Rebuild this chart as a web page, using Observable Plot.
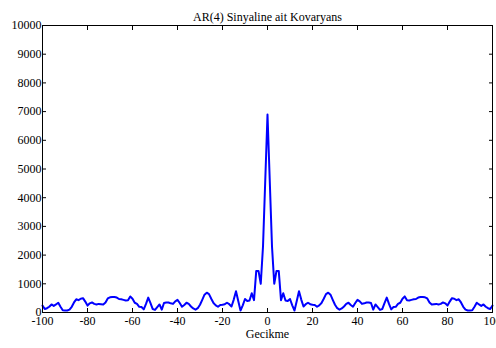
<!DOCTYPE html>
<html>
<head>
<meta charset="utf-8">
<script src="https://cdn.jsdelivr.net/npm/d3@7"></script>
<script src="https://cdn.jsdelivr.net/npm/@observablehq/plot@0.6"></script>
<style>
  html, body { margin: 0; padding: 0; background: #fff; }
</style>
</head>
<body>
<div id="chart"></div>
<script>
const title = "AR(4) Sinyaline ait Kovaryans";
const xLabel = "Gecikme";
const xTicks = [-100, -80, -60, -40, -20, 0, 20, 40, 60, 80, 100];
const yTicks = [0, 1000, 2000, 3000, 4000, 5000, 6000, 7000, 8000, 9000, 10000];

// Sample autocovariance for lags 0..100; the sequence is even, r(-k) = r(k)
const covariance = [
  6900, 4600, 2300, 1000, 1450, 1450, 430, 670, 420, 400,
  470, 250, 70, 400, 740, 450, 210, 290, 340, 290,
  270, 260, 200, 250, 330, 480, 640, 690, 620, 440,
  270, 150, 100, 140, 210, 300, 340, 260, 200, 330,
  440, 390, 300, 320, 350, 350, 330, 100, 280, 190,
  90, 120, 330, 520, 300, 110, 190, 200, 300, 340,
  480, 560, 430, 420, 440, 460, 470, 520, 540, 540,
  530, 490, 350, 280, 290, 300, 280, 300, 350, 320,
  240, 380, 500, 480, 430, 460, 350, 200, 100, 70,
  70, 80, 200, 340, 280, 230, 280, 200, 150, 120,
  240
];

const lags = d3.range(-100, 101);
const series = lags.map(k => ({ lag: k, value: covariance[Math.abs(k)] }));

const blank = () => "";

const chart = Plot.plot({
  width: 496,
  height: 348,
  marginTop: 25,
  marginRight: 4,
  marginBottom: 36,
  marginLeft: 42,
  style: {
    fontFamily: "'Liberation Serif', 'Times New Roman', serif",
    fontSize: "12px",
    color: "#000",
    background: "#fff",
    overflow: "hidden"
  },
  x: { domain: [-100, 100] },
  y: { domain: [0, 10000] },
  marks: [
    Plot.line(series, { x: "lag", y: "value", stroke: "#0000ff", strokeWidth: 2 }),
    Plot.frame({ stroke: "#000", strokeWidth: 1 }),
    // inward ticks on all four sides
    Plot.axisX(xTicks, { anchor: "bottom", tickSize: -4, tickFormat: blank, label: null }),
    Plot.axisX(xTicks, { anchor: "top", tickSize: -4, tickFormat: blank, label: null }),
    Plot.axisY(yTicks, { anchor: "left", tickSize: -4, tickFormat: blank, label: null }),
    Plot.axisY(yTicks, { anchor: "right", tickSize: -4, tickFormat: blank, label: null }),
    // tick labels
    Plot.axisX(xTicks, { anchor: "bottom", tickSize: 0, tickPadding: 4, label: null, tickFormat: d => String(d), fontSize: 12 }),
    Plot.axisY(yTicks, { anchor: "left", tickSize: 0, tickPadding: 1, label: null, tickFormat: d => String(d), fontSize: 12 }),
    Plot.text([title], { frameAnchor: "top", dy: -13, text: d => d, fontSize: 12 }),
    Plot.text([xLabel], { frameAnchor: "bottom", dy: 25, text: d => d, fontSize: 12 })
  ]
});

document.getElementById("chart").appendChild(chart);
</script>
</body>
</html>
